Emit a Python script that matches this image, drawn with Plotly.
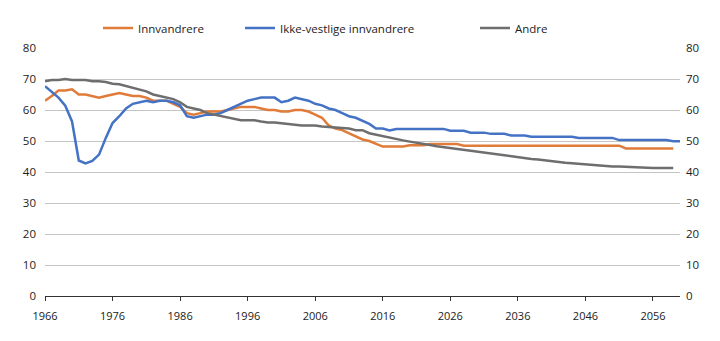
import plotly.graph_objects as go

years_a = list(range(1966, 2060))   # Innvandrere, Andre: 1966-2059
years_b = list(range(1966, 2061))   # Ikke-vestlige: 1966-2060

innvandrere = [
    63, 64.5, 66.3, 66.3, 66.7, 65, 65, 64.5, 64, 64.5,          # 1966-1975
    65, 65.5, 65, 64.5, 64.5, 64, 63, 63, 63, 62,                # 1976-1985
    61, 59, 58.5, 59, 59.5, 59.5, 59.5, 60, 60.5, 61,            # 1986-1995
    61, 61, 60.5, 60, 60, 59.5, 59.5, 60, 60, 59.5,              # 1996-2005
    58.5, 57.5, 55, 54, 53.5, 52.5, 51.5, 50.5, 50, 49,          # 2006-2015
    48.2, 48.2, 48.2, 48.2, 48.6, 48.6, 48.6, 49, 49, 49,        # 2016-2025
    49, 49, 48.5, 48.5, 48.5, 48.5, 48.5, 48.5, 48.5, 48.5,      # 2026-2035
    48.5, 48.5, 48.5, 48.5, 48.5, 48.5, 48.5, 48.5, 48.5, 48.5,  # 2036-2045
    48.5, 48.5, 48.5, 48.5, 48.5, 48.5, 47.6, 47.6, 47.6, 47.6,  # 2046-2055
    47.6, 47.6, 47.6, 47.6,                                      # 2056-2059
]

ikke_vestlige = [
    67.7, 66, 64, 61.4, 56.3, 43.7, 42.8, 43.6, 45.6, 51,        # 1966-1975
    55.8, 58, 60.5, 62, 62.5, 63, 62.5, 63, 63, 62.5,            # 1976-1985
    61.5, 58, 57.5, 58, 58.5, 58.5, 59, 60, 61, 62,              # 1986-1995
    63, 63.5, 64, 64, 64, 62.5, 63, 64, 63.5, 63,                # 1996-2005
    62, 61.5, 60.5, 60, 59, 58, 57.5, 56.5, 55.5, 54,            # 2006-2015
    54, 53.4, 53.9, 53.9, 53.9, 53.9, 53.9, 53.9, 53.9, 53.9,    # 2016-2025
    53.3, 53.3, 53.3, 52.7, 52.7, 52.7, 52.3, 52.3, 52.3, 51.8,  # 2026-2035
    51.8, 51.8, 51.4, 51.4, 51.4, 51.4, 51.4, 51.4, 51.4, 51,    # 2036-2045
    51, 51, 51, 51, 51, 50.3, 50.3, 50.3, 50.3, 50.3,            # 2046-2055
    50.3, 50.3, 50.3, 49.9, 49.9,                                # 2056-2060
]

andre = [
    69.3, 69.7, 69.7, 70, 69.7, 69.7, 69.7, 69.3, 69.3, 69,      # 1966-1975
    68.5, 68.3, 67.7, 67, 66.5, 66, 65, 64.5, 64, 63.5,          # 1976-1985
    62.5, 61, 60.5, 60, 59, 58.5, 58, 57.5, 57, 56.7,            # 1986-1995
    56.7, 56.7, 56.3, 56, 56, 55.7, 55.5, 55.3, 55, 55,          # 1996-2005
    55, 54.7, 54.5, 54.3, 54, 54, 53.5, 53.5, 52.5, 52,          # 2006-2015
    51.5, 51, 50.5, 50.2, 49.8, 49.5, 49, 48.7, 48.3, 48,        # 2016-2025
    47.8, 47.4, 47, 46.8, 46.5, 46.2, 45.9, 45.6, 45.3, 45,      # 2026-2035
    44.8, 44.5, 44.2, 44, 43.7, 43.4, 43.2, 43, 42.8, 42.6,      # 2036-2045
    42.4, 42.2, 42, 41.9, 41.8, 41.8, 41.7, 41.5, 41.3, 41.3,    # 2046-2055
    41.3, 41.3, 41.3, 41.3,                                      # 2056-2059
]

tick_years = list(range(1966, 2057, 10))
y_ticks = [0, 10, 20, 30, 40, 50, 60, 70, 80]

ORANGE = "#E07B39"
BLUE = "#4472C4"
GREY = "#6E6E6E"
FONT = "Open Sans"

fig = go.Figure()
fig.add_trace(go.Scatter(x=years_a, y=innvandrere, mode="lines", name="Innvandrere",
                         line=dict(color=ORANGE, width=2.5), legend="legend"))
fig.add_trace(go.Scatter(x=years_b, y=ikke_vestlige, mode="lines", name="Ikke-vestlige innvandrere",
                         line=dict(color=BLUE, width=2.5), legend="legend2"))
fig.add_trace(go.Scatter(x=years_a, y=andre, mode="lines", name="Andre",
                         line=dict(color=GREY, width=2.5), legend="legend3"))
# invisible trace to enable right axis
fig.add_trace(go.Scatter(x=[1966], y=[0], yaxis="y2", mode="markers",
                         marker=dict(opacity=0), showlegend=False, hoverinfo="skip"))

leg_common = dict(orientation="h", xref="container", yref="container",
                  xanchor="left", yanchor="middle", y=1 - 28 / 341,
                  font=dict(family=FONT, size=11.5, color="#222"),
                  bgcolor="rgba(0,0,0,0)", borderwidth=0)

fig.update_layout(
    width=720, height=341,
    margin=dict(l=45, r=40, t=48, b=45, autoexpand=False),
    paper_bgcolor="white", plot_bgcolor="white",
    font=dict(family=FONT, size=11, color="#222"),
    legend=dict(x=98 / 720, **leg_common),
    legend2=dict(x=240 / 720, **leg_common),
    legend3=dict(x=475 / 720, **leg_common),
    xaxis=dict(range=[1966, 2060], tickvals=tick_years, ticks="outside", ticklen=4,
               tickcolor="#333", showline=True, linecolor="#333", linewidth=1.2,
               showgrid=False, zeroline=False, tickfont=dict(size=11),
               ticklabelstandoff=6),
    yaxis=dict(range=[0, 80], tickvals=y_ticks, showgrid=True, gridcolor="#c4c4c4",
               gridwidth=1, zeroline=False, showline=False, ticks="",
               ticklabelstandoff=8, tickfont=dict(size=11.5)),
    yaxis2=dict(range=[0, 80], tickvals=y_ticks, overlaying="y", side="right",
                showgrid=False, zeroline=False, showline=False, ticks="",
                ticklabelstandoff=5, tickfont=dict(size=11.5)),
)

fig.write_html("out.html")
